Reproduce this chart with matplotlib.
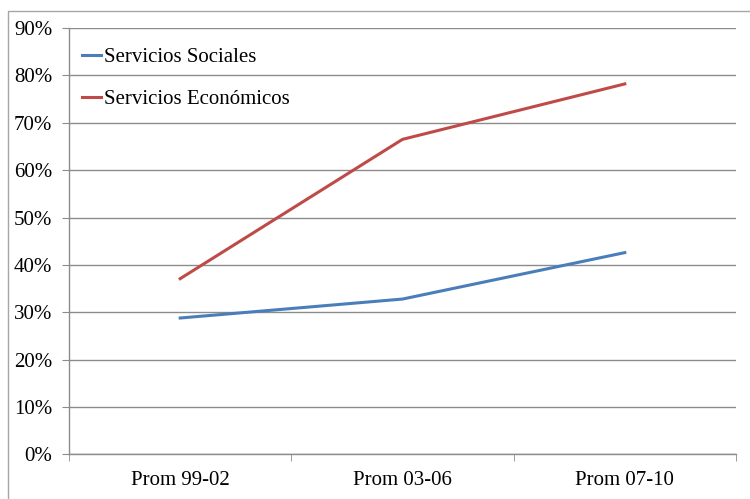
import matplotlib
matplotlib.use('Agg')
import matplotlib.pyplot as plt
from matplotlib.patches import Rectangle
from matplotlib.ticker import FixedLocator, PercentFormatter

# ---------------- data ----------------
categories = ['Prom 99-02', 'Prom 03-06', 'Prom 07-10']
sociales = [28.8, 32.8, 42.6]
economicos = [37.1, 66.5, 78.2]

plt.rcParams['font.family'] = ['Liberation Serif', 'DejaVu Serif']

fig = plt.figure(figsize=(7.5, 4.99), dpi=100)
ax = fig.add_axes([0.092, 0.0892, 0.8893, 0.8547])

# outer chart border (runs off the right/bottom edge like the original)
fig.patches.append(Rectangle((8 / 750, -0.05), 1.1, 1 - 11 / 499 + 0.05,
                             transform=fig.transFigure, fill=False,
                             edgecolor='#a6a6a6', linewidth=1.0))

x = range(len(categories))
ax.plot(x, sociales, color='#4a7ebb', linewidth=2.2, label='Servicios Sociales')
ax.plot(x, economicos, color='#be4b48', linewidth=2.2, label='Servicios Económicos')

ax.set_xlim(-0.5, 2.5)
ax.set_ylim(0, 90)
ax.set_yticks(range(0, 91, 10))
ax.yaxis.set_major_formatter(PercentFormatter(decimals=0))
ax.grid(axis='y', color='#8c8c8c', linewidth=1.0)
ax.set_axisbelow(True)

ax.set_xticks(list(x))
ax.set_xticklabels(categories)
ax.xaxis.set_minor_locator(FixedLocator([-0.5, 0.5, 1.5, 2.5]))
ax.tick_params(axis='x', which='major', length=0, pad=12, labelsize=15)
ax.tick_params(axis='x', which='minor', length=5, color='#8c8c8c', direction='out')
ax.tick_params(axis='y', length=5, color='#8c8c8c', pad=7, labelsize=15)

for side in ['top', 'right']:
    ax.spines[side].set_visible(False)
for side in ['left', 'bottom']:
    ax.spines[side].set_color('#8c8c8c')
    ax.spines[side].set_linewidth(1.0)

ax.legend(loc='upper left', bbox_to_anchor=(-0.0075, 0.995), frameon=False,
          fontsize=15, handlelength=0.95, handletextpad=0.1,
          labelspacing=1.05, borderaxespad=0.45)

fig.savefig('out.png', dpi=100)
